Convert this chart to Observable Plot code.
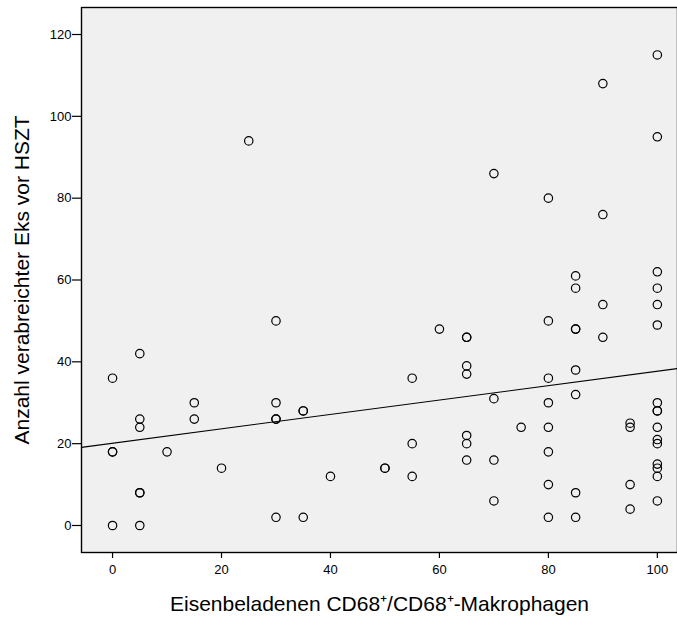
<!DOCTYPE html>
<html>
<head>
<meta charset="utf-8">
<script src="https://cdn.jsdelivr.net/npm/d3@7"></script>
<script src="https://cdn.jsdelivr.net/npm/@observablehq/plot@0.6"></script>
<style>
  html, body { margin: 0; padding: 0; background: #ffffff; }
  #chart svg { display: block; font-family: "Liberation Sans", Arial, sans-serif; }
</style>
</head>
<body>
<div id="chart"></div>
<script>
// Eisenbeladenen CD68+/CD68+-Makrophagen (%) per patient
const xValues = [
  0, 0, 0, 0,
  5, 5, 5, 5, 5, 5,
  10,
  15, 15,
  20,
  25,
  30, 30, 30, 30, 30,
  35, 35, 35,
  40,
  50, 50,
  55, 55, 55,
  60,
  65, 65, 65, 65, 65, 65, 65,
  70, 70, 70, 70,
  75,
  80, 80, 80, 80, 80, 80, 80, 80,
  85, 85, 85, 85, 85, 85, 85, 85,
  90, 90, 90, 90,
  95, 95, 95, 95,
  100, 100, 100, 100, 100, 100, 100, 100, 100, 100, 100, 100, 100, 100, 100, 100
];
// Anzahl verabreichter Eks vor HSZT
const yValues = [
  36, 18, 18, 0,
  42, 26, 24, 8, 8, 0,
  18,
  30, 26,
  14,
  94,
  50, 30, 26, 26, 2,
  28, 28, 2,
  12,
  14, 14,
  36, 20, 12,
  48,
  46, 46, 39, 37, 22, 20, 16,
  86, 31, 16, 6,
  24,
  80, 50, 36, 30, 24, 18, 10, 2,
  61, 58, 48, 48, 38, 32, 8, 2,
  108, 76, 54, 46,
  25, 24, 10, 4,
  115, 95, 62, 58, 54, 49, 30, 28, 28, 24, 21, 20, 15, 14, 12, 6
];
const xTicks = [0, 20, 40, 60, 80, 100];
const yTicks = [0, 20, 40, 60, 80, 100, 120];
const xDomain = [-5.7, 103.7];
const yDomain = [-6.6, 126.6];
// fit line (SPSS "fit line at total"), coefficients
const fitIntercept = 20.1;
const fitSlope = 0.176;
const xTitle = "Eisenbeladenen CD68\u207A/CD68\u207A-Makrophagen";
const yTitle = "Anzahl verabreichter Eks vor HSZT";

const points = xValues.map((x, i) => ({x, y: yValues[i]}));
const fit = xDomain.map(x => ({x, y: fitIntercept + fitSlope * x}));

const chart = Plot.plot({
  width: 677,
  height: 617,
  marginLeft: 81,
  marginTop: 7,
  marginRight: 0,
  marginBottom: 65,
  style: {fontFamily: "'Liberation Sans', Arial, sans-serif", color: "black", background: "white"},
  x: {domain: xDomain, label: null},
  y: {domain: yDomain, label: null},
  marks: [
    Plot.frame({fill: "#f0f0f0", stroke: "none"}),
    Plot.line(fit, {x: "x", y: "y", stroke: "black", strokeWidth: 1.1, clip: true}),
    Plot.dot(points, {x: "x", y: "y", r: 4.2, stroke: "black", strokeWidth: 1.2, fill: "none"}),
    Plot.frame({stroke: "black", strokeWidth: 1.4}),
    Plot.axisX({ticks: xTicks, tickSize: 6, tickPadding: 6, fontSize: 13, label: null, stroke: "black", strokeWidth: 1.2}),
    Plot.axisY({ticks: yTicks, tickSize: 9, tickPadding: 1, fontSize: 13, label: null, stroke: "black", strokeWidth: 1.2}),
    Plot.axisX({ticks: [], tickSize: 0, label: xTitle, labelAnchor: "center", labelArrow: "none", labelOffset: 58, fontSize: 21}),
    Plot.axisY({ticks: [], tickSize: 0, label: yTitle, labelAnchor: "center", labelArrow: "none", labelOffset: 67, fontSize: 21})
  ]
});
document.getElementById("chart").appendChild(chart);
</script>
</body>
</html>
